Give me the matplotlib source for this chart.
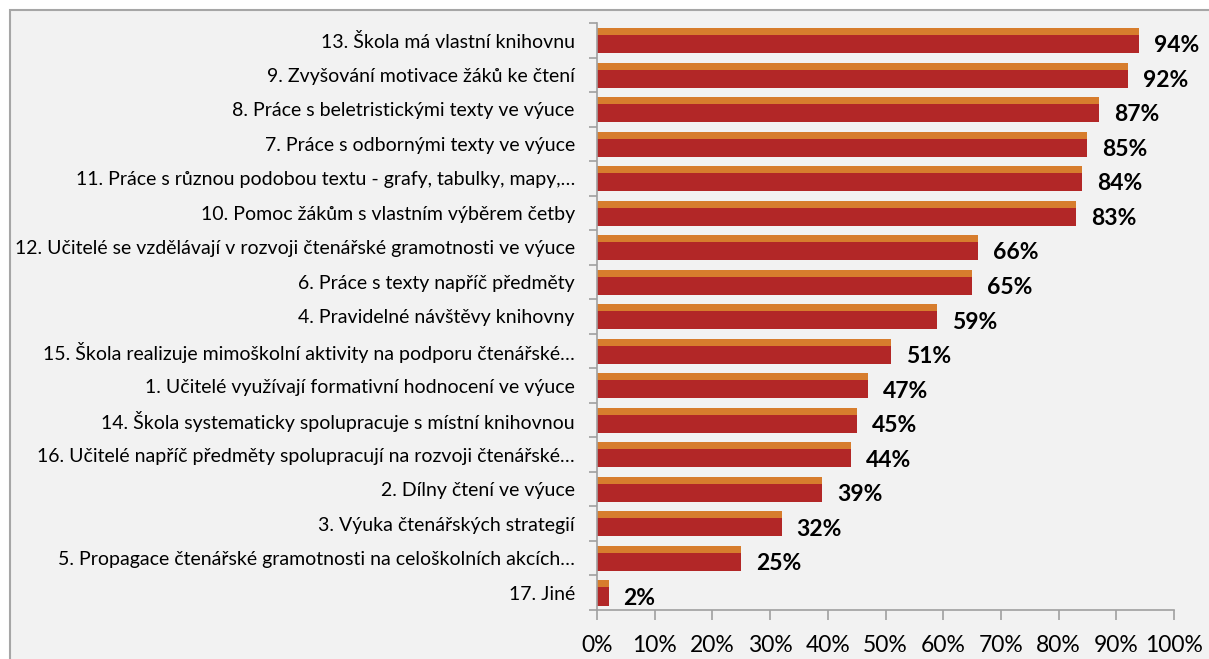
import matplotlib.pyplot as plt
from matplotlib.patches import Rectangle
from matplotlib.ticker import FixedLocator, PercentFormatter

categories = [
    "13. Škola má vlastní knihovnu",
    "9. Zvyšování motivace žáků ke čtení",
    "8. Práce s beletristickými texty ve výuce",
    "7. Práce s odbornými texty ve výuce",
    "11. Práce s různou podobou textu - grafy, tabulky, mapy,…",
    "10. Pomoc žákům s vlastním výběrem četby",
    "12. Učitelé se vzdělávají v rozvoji čtenářské gramotnosti ve výuce",
    "6. Práce s texty napříč předměty",
    "4. Pravidelné návštěvy knihovny",
    "15. Škola realizuje mimoškolní aktivity na podporu čtenářské…",
    "1. Učitelé využívají formativní hodnocení ve výuce",
    "14. Škola systematicky spolupracuje s místní knihovnou",
    "16. Učitelé napříč předměty spolupracují na rozvoji čtenářské…",
    "2. Dílny čtení ve výuce",
    "3. Výuka čtenářských strategií",
    "5. Propagace čtenářské gramotnosti na celoškolních akcích…",
    "17. Jiné",
]
values = [94, 92, 87, 85, 84, 83, 66, 65, 59, 51, 47, 45, 44, 39, 32, 25, 2]
xticks = [0, 10, 20, 30, 40, 50, 60, 70, 80, 90, 100]

plt.rcParams['font.family'] = ['Lato', 'DejaVu Sans']

fig = plt.figure(figsize=(12.09, 6.59), dpi=100, facecolor='white')
fig.patches.append(Rectangle((10 / 1209, -0.05), 1.1, 1 - 10 / 659 + 0.05,
                             transform=fig.transFigure, facecolor='#f2f2f2',
                             edgecolor='#a6a6a6', linewidth=1.5, zorder=-10))

ax = fig.add_axes([597 / 1209, 1 - 610 / 659, 577 / 1209, 587 / 659])
ax.set_facecolor('none')

pos = list(range(len(categories)))
ax.barh([p - 0.254 for p in pos], values, height=0.203, color='#d77d2d')
ax.barh([p + 0.109 for p in pos], values, height=0.522, color='#b22727')

for p, v in zip(pos, values):
    ax.text(v + 2.6, p + 0.16, f"{v}%", va='center', ha='left',
            fontsize=16.5, fontweight='bold', color='black')

ax.set_xlim(0, 100)
ax.set_ylim(len(categories) - 0.5, -0.5)
ax.set_xticks(xticks)
ax.xaxis.set_major_formatter(PercentFormatter(decimals=0))
ax.set_yticks(pos)
ax.set_yticklabels(categories)
ax.yaxis.set_minor_locator(FixedLocator([p - 0.5 for p in pos] + [len(pos) - 0.5]))

ax.tick_params(axis='y', which='major', length=0, pad=16, labelsize=14)
ax.tick_params(axis='y', which='minor', length=6, color='#a0a0a0', width=1.2)
ax.tick_params(axis='x', length=7, color='#a0a0a0', width=1.2, labelsize=16.5, pad=11)

for s in ['top', 'right']:
    ax.spines[s].set_visible(False)
for s in ['left', 'bottom']:
    ax.spines[s].set_color('#a0a0a0')
    ax.spines[s].set_linewidth(1.2)

fig.savefig('out.png', dpi=100, facecolor='white')
